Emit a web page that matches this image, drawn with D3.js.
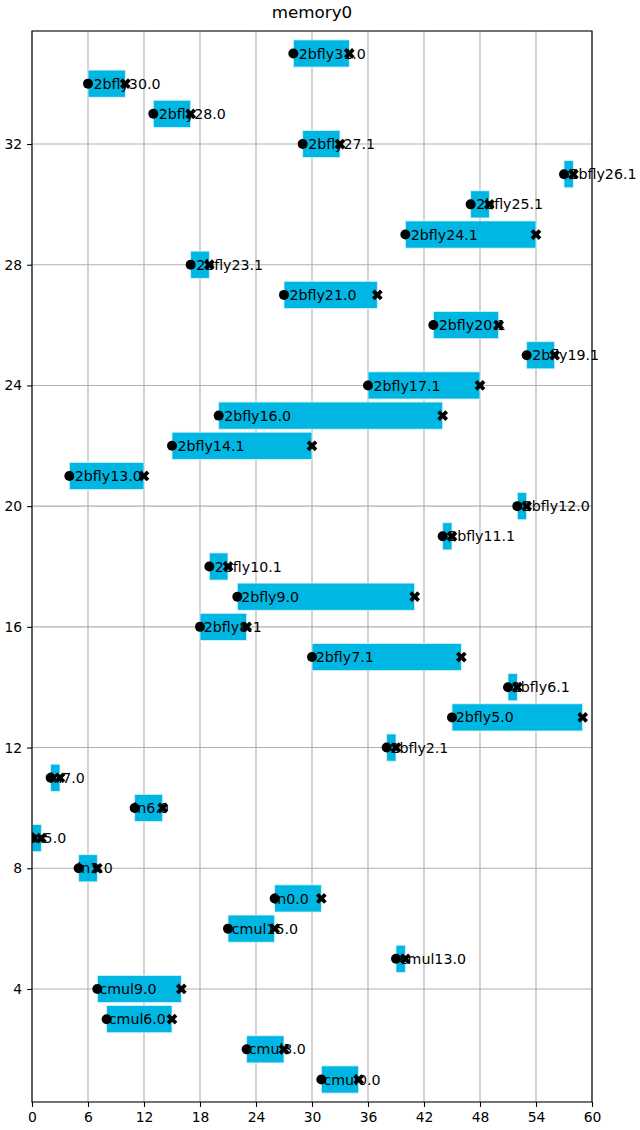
<!DOCTYPE html>
<html>
<head>
<meta charset="utf-8">
<script src="https://cdn.jsdelivr.net/npm/d3@7"></script>
<style>
  body { margin: 0; background: #fff; }
  svg text { font-family: "DejaVu Sans", sans-serif; }
</style>
</head>
<body>
<div class="container"></div>
<script>
// one row per task: label, start, end (row number = index + 1)
const labels = [
  'cmul0.0', 'cmul3.0', 'cmul6.0', 'cmul9.0', 'cmul13.0', 'cmul15.0',
  'in0.0', 'in3.0', 'in5.0', 'in6.0', 'in7.0',
  '2bfly2.1', '2bfly5.0', '2bfly6.1', '2bfly7.1', '2bfly8.1', '2bfly9.0',
  '2bfly10.1', '2bfly11.1', '2bfly12.0', '2bfly13.0', '2bfly14.1', '2bfly16.0',
  '2bfly17.1', '2bfly19.1', '2bfly20.1', '2bfly21.0', '2bfly23.1', '2bfly24.1',
  '2bfly25.1', '2bfly26.1', '2bfly27.1', '2bfly28.0', '2bfly30.0', '2bfly31.0'
];
const starts = [
  31, 23, 8, 7, 39, 21,
  26, 5, 0, 11, 2,
  38, 45, 51, 30, 18, 22,
  19, 44, 52, 4, 15, 20,
  36, 53, 43, 27, 17, 40,
  47, 57, 29, 13, 6, 28
];
const ends = [
  35, 27, 15, 16, 40, 26,
  31, 7, 1, 14, 3,
  39, 59, 52, 46, 23, 41,
  21, 45, 53, 12, 30, 44,
  48, 56, 50, 37, 19, 54,
  49, 58, 33, 17, 10, 34
];
const xTicks = [0, 6, 12, 18, 24, 30, 36, 42, 48, 54, 60];
const yTicks = [4, 8, 12, 16, 20, 24, 28, 32];

const data = labels.map((name, i) => ({
  name: name,
  row: i + 1,
  start: starts[i],
  end: ends[i]
}));

const width = 640;
const height = 1130;
const margin = { top: 31, right: 48, bottom: 28, left: 32 };

const svg = d3
  .select('.container')
  .append('svg')
  .attr('width', width)
  .attr('height', height);

const xScale = d3
  .scaleLinear()
  .domain([0, 60])
  .range([margin.left, width - margin.right]);

const yScale = d3
  .scaleLinear()
  .domain([0.255, 35.745])
  .range([height - margin.bottom, margin.top]);

svg
  .append('text')
  .attr('x', (margin.left + width - margin.right) / 2)
  .attr('y', 12)
  .attr('dy', '0.35em')
  .attr('text-anchor', 'middle')
  .style('font-size', '16.7px')
  .text('memory0');

svg
  .append('clipPath')
  .attr('id', 'plot-clip')
  .append('rect')
  .attr('x', margin.left)
  .attr('y', margin.top)
  .attr('width', width - margin.left - margin.right)
  .attr('height', height - margin.top - margin.bottom);

// grid
const grid = svg.append('g').attr('stroke', '#b0b0b0').attr('stroke-width', 1.1);
grid
  .selectAll('.vgrid')
  .data(xTicks)
  .enter()
  .append('line')
  .attr('x1', (d) => xScale(d))
  .attr('x2', (d) => xScale(d))
  .attr('y1', margin.top)
  .attr('y2', height - margin.bottom);
grid
  .selectAll('.hgrid')
  .data(yTicks)
  .enter()
  .append('line')
  .attr('x1', margin.left)
  .attr('x2', width - margin.right)
  .attr('y1', (d) => yScale(d))
  .attr('y2', (d) => yScale(d));

const plot = svg.append('g').attr('clip-path', 'url(#plot-clip)');

plot
  .selectAll('.bar')
  .data(data)
  .enter()
  .append('rect')
  .attr('class', 'bar')
  .attr('x', (d) => xScale(d.start))
  .attr('width', (d) => xScale(d.end) - xScale(d.start))
  .attr('y', (d) => yScale(d.row + 0.45))
  .attr('height', (d) => yScale(d.row - 0.45) - yScale(d.row + 0.45))
  .attr('fill', '#00b7e4')
  .attr('stroke', '#d8f3fb')
  .attr('stroke-width', 0.8);

// labels are not clipped: they run past the right spine in the original
svg
  .selectAll('.label')
  .data(data)
  .enter()
  .append('text')
  .attr('class', 'label')
  .attr('x', (d) => xScale(d.start) + d.name.length * 1.7 - 9.8)
  .attr('y', (d) => yScale(d.row))
  .attr('dy', '0.36em')
  .style('font-size', '14.2px')
  .attr('fill', '#000')
  .text((d) => d.name);

plot
  .selectAll('.start')
  .data(data)
  .enter()
  .append('circle')
  .attr('class', 'start')
  .attr('cx', (d) => xScale(d.start))
  .attr('cy', (d) => yScale(d.row))
  .attr('r', 5)
  .attr('fill', '#000');

const xMark = d3.symbol().type(d3.symbolCross).size(72);
plot
  .selectAll('.end')
  .data(data)
  .enter()
  .append('path')
  .attr('class', 'end')
  .attr('d', xMark)
  .attr('transform', (d) => `translate(${xScale(d.end)},${yScale(d.row)}) rotate(45)`)
  .attr('fill', '#000');

// axes
const xAxis = d3.axisBottom(xScale).tickValues(xTicks).tickSize(4.9).tickPadding(4.9);
const yAxis = d3.axisLeft(yScale).tickValues(yTicks).tickSize(4.9).tickPadding(4.9);

const gx = svg
  .append('g')
  .attr('transform', `translate(0,${height - margin.bottom})`)
  .call(xAxis);
const gy = svg
  .append('g')
  .attr('transform', `translate(${margin.left},0)`)
  .call(yAxis);

[gx, gy].forEach((g) => {
  g.select('.domain').remove();
  g.selectAll('line').attr('stroke', '#000').attr('stroke-width', 1.1);
  g.selectAll('text').style('font-size', '13.9px').style('font-family', '"DejaVu Sans", sans-serif').attr('fill', '#000');
});

svg
  .append('rect')
  .attr('x', margin.left)
  .attr('y', margin.top)
  .attr('width', width - margin.left - margin.right)
  .attr('height', height - margin.top - margin.bottom)
  .attr('fill', 'none')
  .attr('stroke', '#000')
  .attr('stroke-width', 1.1);
</script>
</body>
</html>
